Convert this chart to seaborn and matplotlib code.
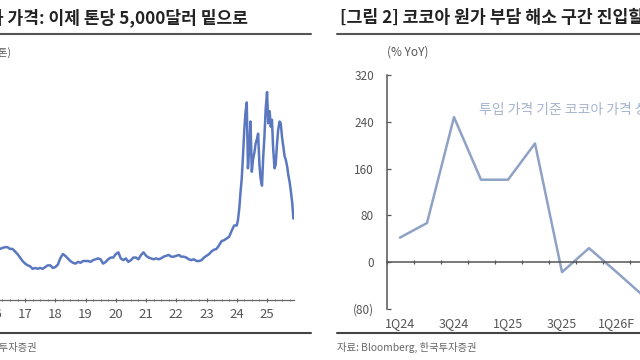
import matplotlib
matplotlib.use('Agg')
import matplotlib.pyplot as plt
import matplotlib.dates as mdates
from matplotlib.lines import Line2D
import pandas as pd
import seaborn as sns

# 코코아 가격 (달러/톤), 2016~2023 월별
p2016 = [2850, 2900, 2950, 3000, 3050, 3050, 2950, 2950, 2800, 2650, 2450, 2250]
p2017 = [2100, 2000, 1950, 1800, 1850, 1800, 1850, 1800, 1900, 2000, 2000, 1850]
p2018 = [1900, 2050, 2400, 2650, 2550, 2400, 2250, 2150, 2100, 2200, 2150, 2250]
p2019 = [2250, 2250, 2200, 2300, 2350, 2400, 2350, 2100, 2200, 2350, 2450, 2450]
p2020 = [2650, 2750, 2400, 2300, 2400, 2200, 2300, 2450, 2450, 2350, 2600, 2750]
p2021 = [2550, 2450, 2400, 2350, 2400, 2350, 2400, 2500, 2550, 2600, 2500, 2500]
p2022 = [2550, 2600, 2500, 2500, 2450, 2350, 2300, 2350, 2250, 2250, 2300, 2450]
p2023 = [2550, 2650, 2800, 2900, 2950, 3150, 3400, 3450, 3550, 3650, 4000, 4300]
# 2024-01 ~ 2025-11 반월별
p_recent = [4300, 4600, 5300, 6200, 7000, 8200, 9800, 10800, 11400, 7600, 8800, 10300,
            7400, 8100, 8500, 9000, 9300, 9600, 7800, 7000, 6600, 8200, 9500, 11000,
            12000, 10200, 10900, 10000, 10400, 8800, 7600, 7800, 9000, 9800, 10300, 10200,
            9400, 8900, 8300, 8100, 7700, 7200, 6800, 6300, 5600, 4700]

# 투입 가격 기준 코코아 가격 상승률 (% YoY)
quarters = ['1Q24', '2Q24', '3Q24', '4Q24', '1Q25', '2Q25', '3Q25', '4Q25', '1Q26F', '2Q26F']
yoy = [42, 67, 248, 141, 141, 203, -17, 24, -16, -57]
y_ticks = [-80, 0, 80, 160, 240, 320]

W, H = 640, 360


def fx(x):
    return x / W


def fy(y):
    return 1 - y / H


sns.set_theme(style='white')
plt.rcParams['font.family'] = ['Noto Sans CJK KR', 'DejaVu Sans']

fig = plt.figure(figsize=(6.4, 3.6), dpi=100)

# ---------- left panel ----------
monthly = p2016 + p2017 + p2018 + p2019 + p2020 + p2021 + p2022 + p2023
df_m = pd.DataFrame({'date': pd.date_range('2016-01-01', periods=len(monthly), freq='MS'),
                     'price': monthly})
df_r = pd.DataFrame({'date': pd.date_range('2024-01-01', periods=len(p_recent), freq='SMS'),
                     'price': p_recent})
price = pd.concat([df_m, df_r], ignore_index=True)

axl = fig.add_axes([fx(-20.4), fy(300), (314.2) / W, 242.6 / H])
sns.lineplot(data=price, x='date', y='price', ax=axl, color='#5a78c0', linewidth=1.8)
axl.set_xlim(pd.Timestamp('2015-07-01'), pd.Timestamp('2025-11-20'))
axl.set_ylim(0, 14000)
for s in ['top', 'right', 'left']:
    axl.spines[s].set_visible(False)
axl.spines['bottom'].set_color('#666666')
axl.spines['bottom'].set_linewidth(0.9)
axl.set_yticks([])
axl.xaxis.set_major_locator(mdates.YearLocator())
axl.xaxis.set_major_formatter(mdates.DateFormatter('%y'))
axl.xaxis.set_minor_locator(mdates.MonthLocator(bymonth=[4, 7, 10]))
axl.tick_params(axis='x', which='major', direction='inout', length=3, width=0.8,
                color='#666666', labelsize=9.5, labelcolor='#555555', pad=4, bottom=True)
axl.tick_params(axis='x', which='minor', direction='inout', length=2, width=0.6,
                color='#666666', bottom=True)
axl.set_xlabel('')
axl.set_ylabel('')

# ---------- right panel ----------
df_q = pd.DataFrame({'idx': range(len(quarters)), 'yoy': yoy})
axr = fig.add_axes([fx(386.5), fy(309), 270 / W, 234 / H])
sns.lineplot(data=df_q, x='idx', y='yoy', ax=axr, color='#8fa2c5', linewidth=1.8)
axr.set_xlim(-0.5, len(quarters) - 0.5)
axr.set_ylim(-80, 320)
axr.spines['top'].set_visible(False)
axr.spines['right'].set_visible(False)
axr.spines['bottom'].set_position(('data', 0))
for s in ['left', 'bottom']:
    axr.spines[s].set_color('#555555')
    axr.spines[s].set_linewidth(1.1)
axr.set_yticks(y_ticks)
axr.set_yticklabels([f'({-v})' if v < 0 else str(v) for v in y_ticks])
axr.set_xticks([i - 0.5 for i in range(len(quarters) + 1)])
axr.set_xticklabels([])
axr.tick_params(axis='y', direction='in', length=3, width=0.9, color='#555555',
                labelsize=8.5, labelcolor='#555555', pad=9, left=True)
axr.tick_params(axis='x', direction='inout', length=3, width=0.9, color='#555555', bottom=True)
axr.set_xlabel('')
axr.set_ylabel('')
for i in range(0, len(quarters), 2):
    axr.text(i, -0.06, quarters[i], transform=axr.get_xaxis_transform(), ha='center',
             va='center', fontsize=9, color='#555555')
axr.text(fx(479), fy(110), '투입 가격 기준 코코아 가격 상승률', transform=fig.transFigure,
         ha='left', va='center', fontsize=10, color='#a5b4cf')

# ---------- titles, rules, notes ----------
fig.text(fx(248), fy(18), '[그림 1] 코코아 가격: 이제 톤당 5,000달러 밑으로', ha='right',
         va='center', fontsize=12.3, fontweight='bold', color='#222222')
fig.text(fx(340), fy(18), '[그림 2] 코코아 원가 부담 해소 구간 진입할 전망', ha='left',
         va='center', fontsize=12.4, fontweight='bold', color='#222222')
for x0, x1 in [(0, 311), (337, 640)]:
    fig.add_artist(Line2D([fx(x0), fx(x1)], [fy(33.5), fy(33.5)], color='#555555', lw=1.5))
    fig.add_artist(Line2D([fx(x0), fx(x1)], [fy(333), fy(333)], color='#444444', lw=1.5))
fig.text(fx(11), fy(52), '(달러/톤)', ha='right', va='center', fontsize=7.5, color='#555555')
fig.text(fx(387), fy(52), '(% YoY)', ha='left', va='center', fontsize=8.5, color='#555555')
fig.text(fx(37), fy(347), '자료: ICE, 한국투자증권', ha='right', va='center', fontsize=7.4,
         color='#666666')
fig.text(fx(337), fy(347), '자료: Bloomberg, 한국투자증권', ha='left', va='center', fontsize=7.4,
         color='#666666')

fig.savefig('out.png', dpi=100)
